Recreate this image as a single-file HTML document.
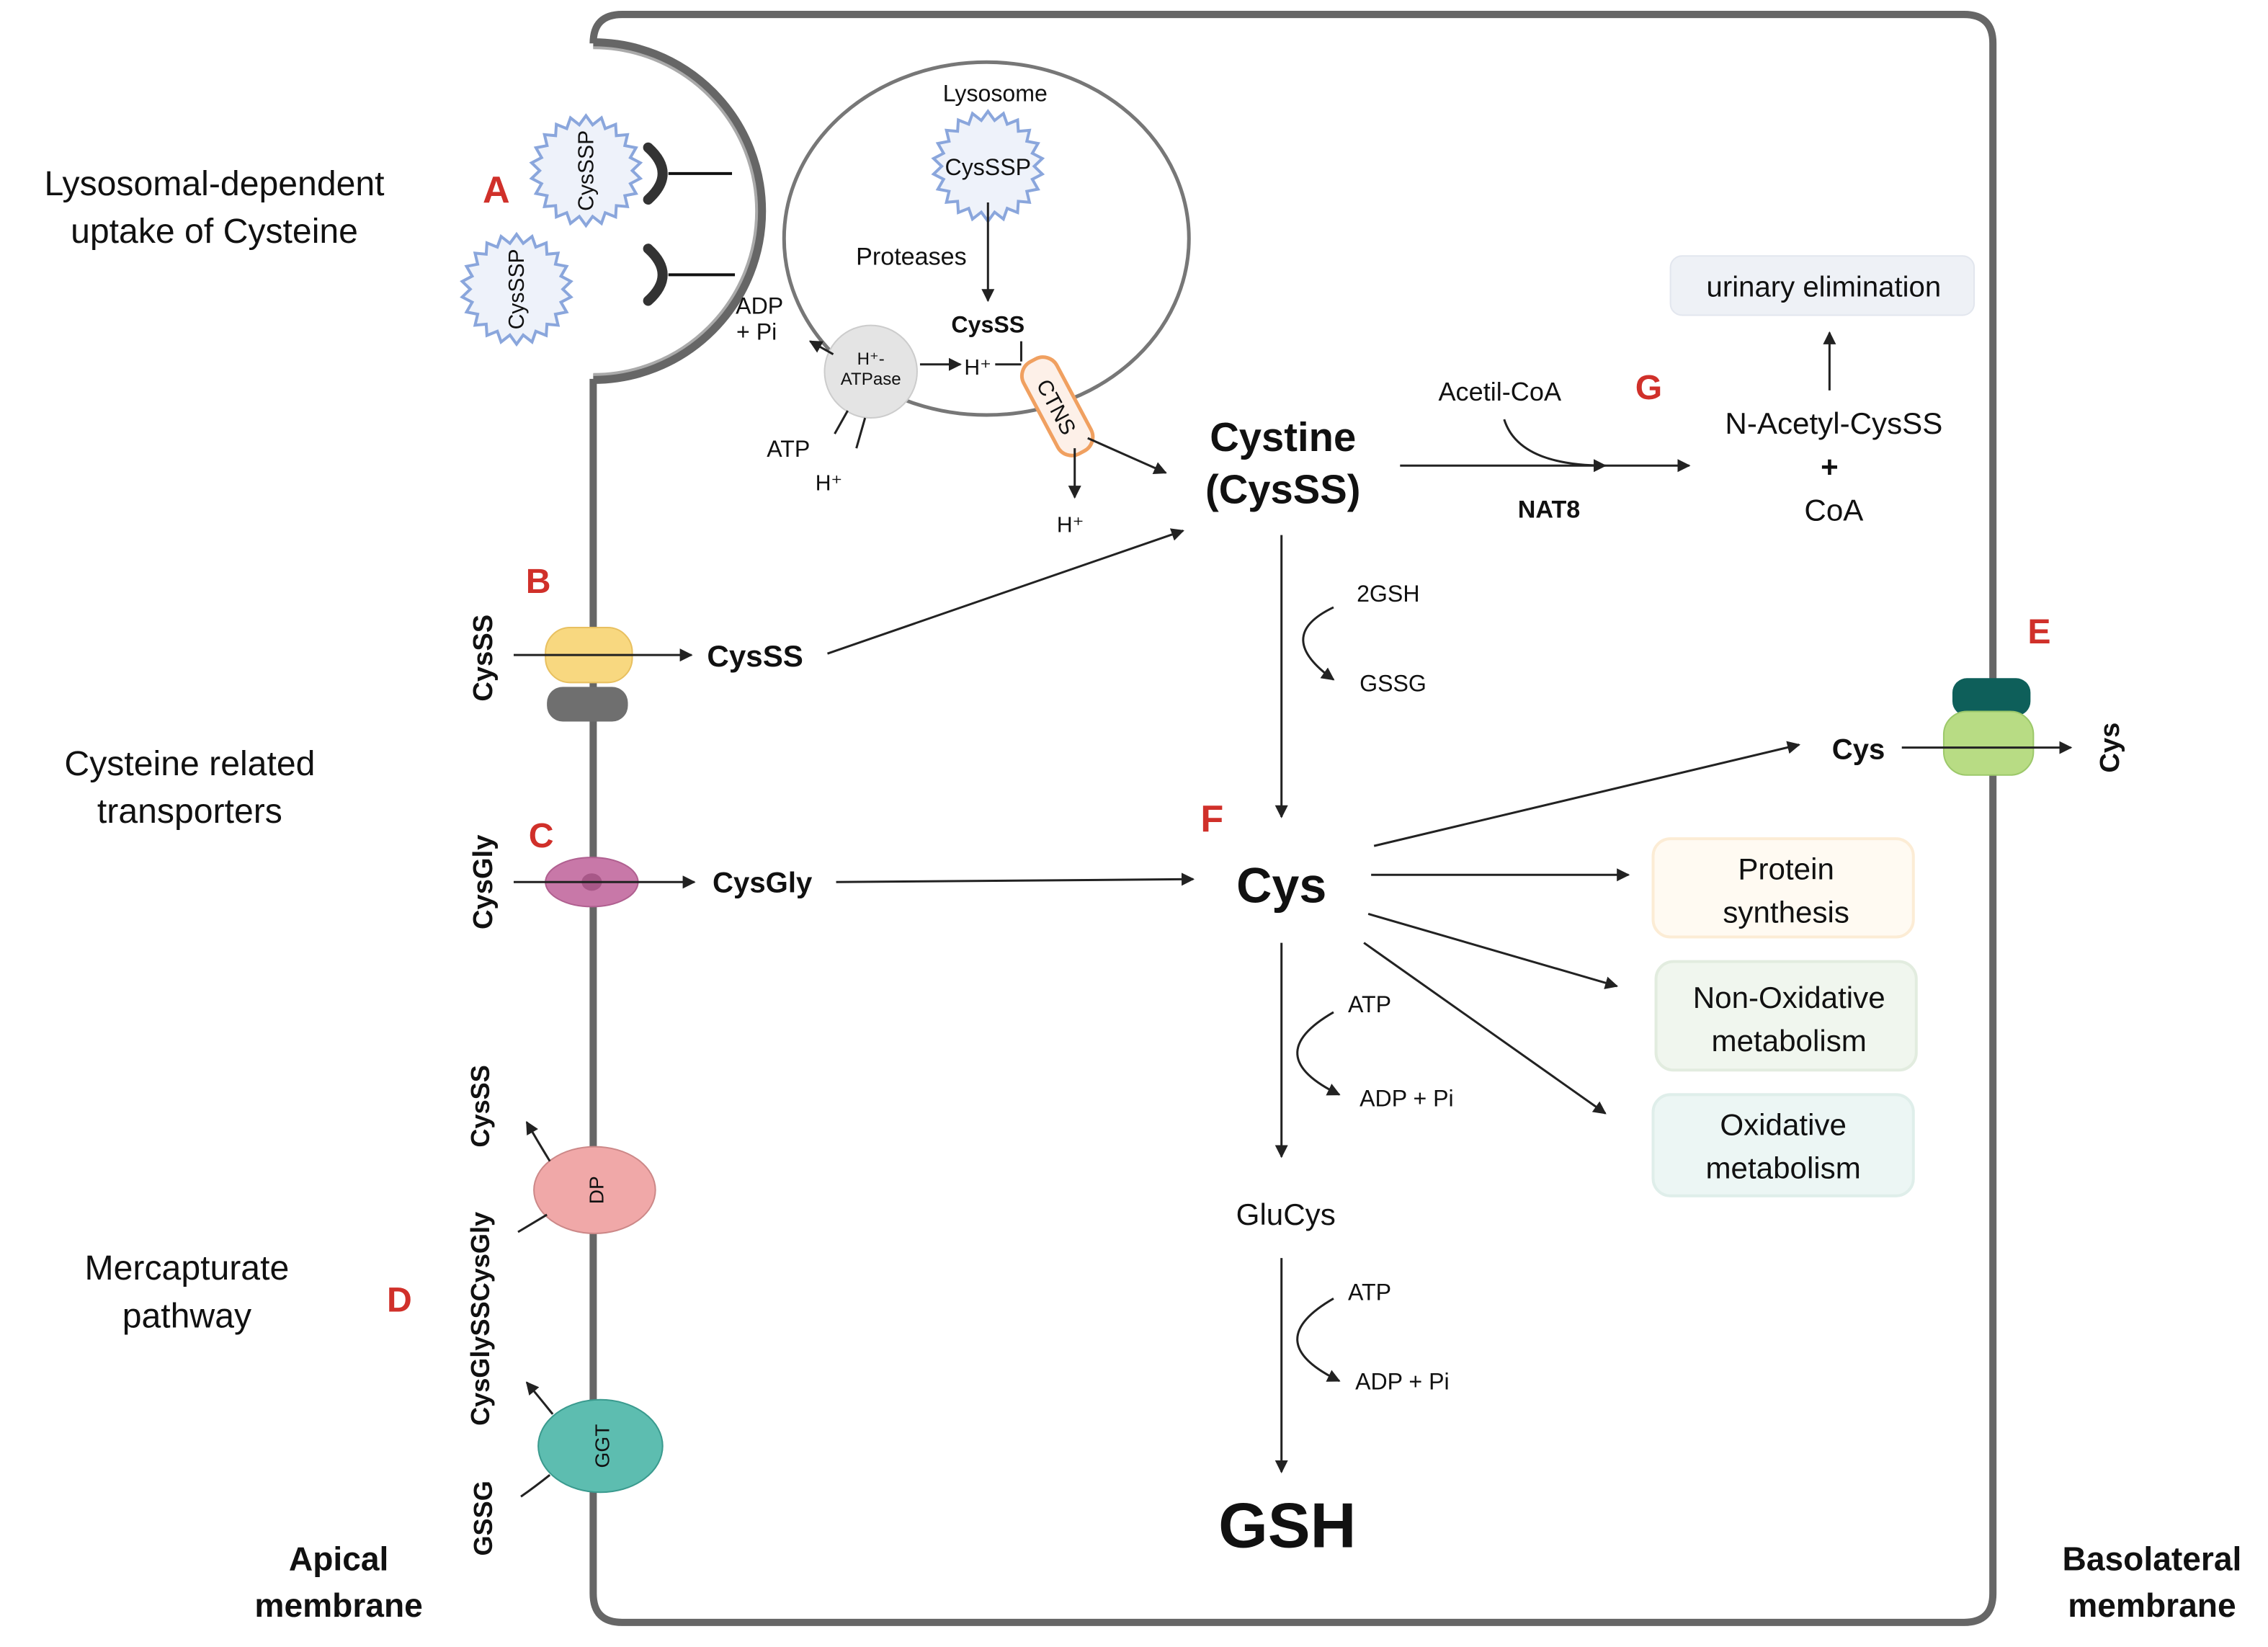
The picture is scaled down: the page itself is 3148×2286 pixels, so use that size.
<!DOCTYPE html>
<html><head><meta charset="utf-8"><style>
html,body{margin:0;padding:0;background:#fff}
svg{display:block}
text{font-family:"Liberation Sans",Arial,sans-serif;fill:#111}
.b{font-weight:bold}
.r{fill:#d0302a;font-weight:bold}
</style></head><body>
<svg width="3148" height="2286" viewBox="0 0 1568 1139" xmlns="http://www.w3.org/2000/svg">
<defs>
<marker id="a" viewBox="0 0 10 10" refX="9" refY="5" markerWidth="9" markerHeight="9" markerUnits="userSpaceOnUse" orient="auto"><path d="M0,0L10,5L0,10z" fill="#222"/></marker>
</defs>
<rect width="1568" height="1139" fill="#fff"/>
<!-- cell -->
<path d="M410,30 L410,30 Q410,10 430,10 L1358,10 Q1378,10 1378,30 L1378,1102 Q1378,1122 1358,1122 L430,1122 Q410,1122 410,1102 L410,262" fill="none" stroke="#666" stroke-width="5"/>
<path d="M410,30 A116,116 0 0 1 410,262" fill="none" stroke="#666" stroke-width="7"/>
<path d="M410,33 A113,113 0 0 1 410,259" fill="none" stroke="#aaa" stroke-width="2"/>
<!-- receptors -->
<line x1="462" y1="120" x2="506" y2="120" stroke="#111" stroke-width="2"/>
<line x1="462" y1="190" x2="508" y2="190" stroke="#111" stroke-width="2"/>
<path d="M448,102 Q468,120 448,138" fill="none" stroke="#333" stroke-width="7" stroke-linecap="round"/>
<path d="M448,172 Q468,190 448,208" fill="none" stroke="#333" stroke-width="7" stroke-linecap="round"/>
<g id="stars"></g>
<text transform="translate(410,118) rotate(-90)" font-size="15" text-anchor="middle">CysSSP</text>
<text transform="translate(362,200) rotate(-90)" font-size="15" text-anchor="middle">CysSSP</text>
<!-- lysosome -->
<ellipse cx="682" cy="165" rx="140" ry="122" fill="none" stroke="#777" stroke-width="2.5"/>
<text x="688" y="70" font-size="16" text-anchor="middle">Lysosome</text>
<text x="683" y="121" font-size="16" text-anchor="middle">CysSSP</text>
<text x="630" y="183" font-size="17" text-anchor="middle">Proteases</text>
<line x1="683" y1="140" x2="683" y2="208" stroke="#222" stroke-width="1.5" marker-end="url(#a)"/>
<text x="683" y="230" font-size="16" class="b" text-anchor="middle">CysSS</text>
<line x1="706" y1="236" x2="706" y2="250" stroke="#222" stroke-width="1.5"/>
<line x1="688" y1="252" x2="706" y2="252" stroke="#222" stroke-width="1.5"/>
<circle cx="602" cy="257" r="32" fill="#e4e4e4" stroke="#ccc"/>
<text x="602" y="252" font-size="12" text-anchor="middle">H⁺-</text>
<text x="602" y="266" font-size="12" text-anchor="middle">ATPase</text>
<line x1="576" y1="245" x2="560" y2="236" stroke="#222" stroke-width="1.5" marker-end="url(#a)"/>
<text x="525" y="217" font-size="16" text-anchor="middle">ADP</text>
<text x="523" y="235" font-size="16" text-anchor="middle">+ Pi</text>
<line x1="636" y1="252" x2="664" y2="252" stroke="#222" stroke-width="1.5" marker-end="url(#a)"/>
<text x="676" y="259" font-size="15" text-anchor="middle">H⁺</text>
<line x1="586" y1="284" x2="577" y2="300" stroke="#222" stroke-width="1.5"/>
<line x1="598" y1="289" x2="592" y2="310" stroke="#222" stroke-width="1.5"/>
<text x="545" y="316" font-size="16" text-anchor="middle">ATP</text>
<text x="573" y="339" font-size="15" text-anchor="middle">H⁺</text>
<g transform="translate(731,281) rotate(62)"><rect x="-36" y="-13" width="72" height="26" rx="11" fill="#fdf0e8" stroke="#f0a060" stroke-width="2.5"/><text x="0" y="6" font-size="15" text-anchor="middle">CTNS</text></g>
<line x1="743" y1="310" x2="743" y2="344" stroke="#222" stroke-width="1.5" marker-end="url(#a)"/>
<text x="740" y="368" font-size="15" text-anchor="middle">H⁺</text>
<line x1="752" y1="303" x2="806" y2="327" stroke="#222" stroke-width="1.5" marker-end="url(#a)"/>
<!-- Cystine -->
<text x="887" y="312" font-size="28" class="b" text-anchor="middle">Cystine</text>
<text x="887" y="348" font-size="28" class="b" text-anchor="middle">(CysSS)</text>
<line x1="968" y1="322" x2="1168" y2="322" stroke="#222" stroke-width="1.5" marker-end="url(#a)"/>
<path d="M1040,290 Q1050,322 1110,322" fill="none" stroke="#222" stroke-width="1.5" marker-end="url(#a)"/>
<text x="1037" y="277" font-size="18" text-anchor="middle">Acetil-CoA</text>
<text x="1071" y="358" font-size="17" class="b" text-anchor="middle">NAT8</text>
<text x="1140" y="276" font-size="24" class="r" text-anchor="middle">G</text>
<text x="1268" y="300" font-size="21" text-anchor="middle">N-Acetyl-CysSS</text>
<text x="1265" y="330" font-size="21" class="b" text-anchor="middle">+</text>
<text x="1268" y="360" font-size="21" text-anchor="middle">CoA</text>
<line x1="1265" y1="270" x2="1265" y2="230" stroke="#222" stroke-width="1.5" marker-end="url(#a)"/>
<rect x="1155" y="177" width="210" height="41" rx="8" fill="#eef1f6" stroke="#e2e6ee"/>
<text x="1261" y="205" font-size="20" text-anchor="middle">urinary elimination</text>
<!-- Cystine to Cys -->
<line x1="886" y1="370" x2="886" y2="565" stroke="#222" stroke-width="1.5" marker-end="url(#a)"/>
<path d="M922,420 Q880,440 922,470" fill="none" stroke="#222" stroke-width="1.5" marker-end="url(#a)"/>
<text x="938" y="416" font-size="16">2GSH</text>
<text x="940" y="478" font-size="16">GSSG</text>
<text x="838" y="575" font-size="26" class="r" text-anchor="middle">F</text>
<text x="886" y="624" font-size="34" class="b" text-anchor="middle">Cys</text>
<line x1="950" y1="585" x2="1244" y2="515" stroke="#222" stroke-width="1.5" marker-end="url(#a)"/>
<line x1="948" y1="605" x2="1126" y2="605" stroke="#222" stroke-width="1.5" marker-end="url(#a)"/>
<line x1="946" y1="632" x2="1118" y2="682" stroke="#222" stroke-width="1.5" marker-end="url(#a)"/>
<line x1="943" y1="652" x2="1110" y2="770" stroke="#222" stroke-width="1.5" marker-end="url(#a)"/>
<rect x="1143" y="580" width="180" height="68" rx="12" fill="#fffaf2" stroke="#fcecd5" stroke-width="2"/>
<text x="1235" y="608" font-size="21" text-anchor="middle">Protein</text>
<text x="1235" y="638" font-size="21" text-anchor="middle">synthesis</text>
<rect x="1145" y="665" width="180" height="75" rx="12" fill="#f0f6ee" stroke="#e2ecdf" stroke-width="2"/>
<text x="1237" y="697" font-size="21" text-anchor="middle">Non-Oxidative</text>
<text x="1237" y="727" font-size="21" text-anchor="middle">metabolism</text>
<rect x="1143" y="757" width="180" height="70" rx="12" fill="#ecf6f4" stroke="#dfeeea" stroke-width="2"/>
<text x="1233" y="785" font-size="21" text-anchor="middle">Oxidative</text>
<text x="1233" y="815" font-size="21" text-anchor="middle">metabolism</text>
<!-- E -->
<text x="1410" y="445" font-size="24" class="r" text-anchor="middle">E</text>
<rect x="1350" y="469" width="54" height="26" rx="10" fill="#0e5f5a"/>
<rect x="1344" y="492" width="62" height="44" rx="16" fill="#b8dc84" stroke="#9cc86a"/>
<text x="1285" y="525" font-size="20" class="b" text-anchor="middle">Cys</text>
<line x1="1315" y1="517" x2="1432" y2="517" stroke="#222" stroke-width="1.5" marker-end="url(#a)"/>
<text transform="translate(1465,517) rotate(-90)" font-size="19" class="b" text-anchor="middle">Cys</text>
<!-- Cys to GSH -->
<line x1="886" y1="652" x2="886" y2="800" stroke="#222" stroke-width="1.5" marker-end="url(#a)"/>
<path d="M922,700 Q870,730 926,757" fill="none" stroke="#222" stroke-width="1.5" marker-end="url(#a)"/>
<text x="932" y="700" font-size="16">ATP</text>
<text x="940" y="765" font-size="16">ADP + Pi</text>
<text x="889" y="847" font-size="21" text-anchor="middle">GluCys</text>
<line x1="886" y1="870" x2="886" y2="1018" stroke="#222" stroke-width="1.5" marker-end="url(#a)"/>
<path d="M922,898 Q870,928 926,955" fill="none" stroke="#222" stroke-width="1.5" marker-end="url(#a)"/>
<text x="932" y="899" font-size="16">ATP</text>
<text x="937" y="961" font-size="16">ADP + Pi</text>
<text x="890" y="1070" font-size="44" class="b" text-anchor="middle">GSH</text>
<!-- left labels -->
<text x="148" y="135" font-size="24" text-anchor="middle">Lysosomal-dependent</text>
<text x="148" y="168" font-size="24" text-anchor="middle">uptake of Cysteine</text>
<text x="343" y="140" font-size="26" class="r" text-anchor="middle">A</text>
<text x="372" y="410" font-size="24" class="r" text-anchor="middle">B</text>
<text transform="translate(340,455) rotate(-90)" font-size="19" class="b" text-anchor="middle">CysSS</text>
<rect x="378" y="475" width="56" height="24" rx="11" fill="#6f6f6f"/>
<rect x="377" y="434" width="60" height="38" rx="17" fill="#f8d880" stroke="#e8c060"/>
<line x1="355" y1="453" x2="478" y2="453" stroke="#222" stroke-width="1.5" marker-end="url(#a)"/>
<text x="522" y="461" font-size="21" class="b" text-anchor="middle">CysSS</text>
<line x1="572" y1="452" x2="818" y2="367" stroke="#222" stroke-width="1.5" marker-end="url(#a)"/>
<text x="131" y="536" font-size="24" text-anchor="middle">Cysteine related</text>
<text x="131" y="569" font-size="24" text-anchor="middle">transporters</text>
<text x="374" y="586" font-size="24" class="r" text-anchor="middle">C</text>
<text transform="translate(340,610) rotate(-90)" font-size="19" class="b" text-anchor="middle">CysGly</text>
<ellipse cx="409" cy="610" rx="32" ry="17" fill="#c878a8" stroke="#b06090"/>
<ellipse cx="409" cy="610" rx="7" ry="6" fill="#a85888"/>
<line x1="355" y1="610" x2="480" y2="610" stroke="#222" stroke-width="1.5" marker-end="url(#a)"/>
<text x="527" y="617" font-size="20" class="b" text-anchor="middle">CysGly</text>
<line x1="578" y1="610" x2="825" y2="608" stroke="#222" stroke-width="1.5" marker-end="url(#a)"/>
<text x="129" y="885" font-size="24" text-anchor="middle">Mercapturate</text>
<text x="129" y="918" font-size="24" text-anchor="middle">pathway</text>
<text x="276" y="907" font-size="24" class="r" text-anchor="middle">D</text>
<text transform="translate(338,765) rotate(-90)" font-size="18" class="b" text-anchor="middle">CysSS</text>
<text transform="translate(338,912) rotate(-90)" font-size="18" class="b" text-anchor="middle">CysGlySSCysGly</text>
<text transform="translate(340,1050) rotate(-90)" font-size="18" class="b" text-anchor="middle">GSSG</text>
<ellipse cx="411" cy="823" rx="42" ry="30" fill="#f0a8a8" stroke="#c88"/>
<text transform="translate(417,823) rotate(-90)" font-size="14" text-anchor="middle">DP</text>
<path d="M380,803 Q372,790 364,776" fill="none" stroke="#222" stroke-width="1.5" marker-end="url(#a)"/>
<path d="M378,840 Q368,846 358,852" fill="none" stroke="#222" stroke-width="1.5"/>
<ellipse cx="415" cy="1000" rx="43" ry="32" fill="#5dbdb0" stroke="#3a9a8e"/>
<text transform="translate(421,1000) rotate(-90)" font-size="14" text-anchor="middle">GGT</text>
<path d="M382,978 Q374,968 364,956" fill="none" stroke="#222" stroke-width="1.5" marker-end="url(#a)"/>
<path d="M380,1020 Q370,1028 360,1035" fill="none" stroke="#222" stroke-width="1.5"/>
<text x="234" y="1086" font-size="23" class="b" text-anchor="middle">Apical</text>
<text x="234" y="1118" font-size="23" class="b" text-anchor="middle">membrane</text>
<text x="1488" y="1086" font-size="23" class="b" text-anchor="middle">Basolateral</text>
<text x="1488" y="1118" font-size="23" class="b" text-anchor="middle">membrane</text>
</svg>
<script>
(function(){
 var g=document.getElementById('stars');
 [[405,118,38],[357,200,38],[683,115,38]].forEach(function(s){
  var p=[],n=22;
  for(var i=0;i<n*2;i++){var r=i%2?s[2]:s[2]-6;var t=Math.PI*i/n;p.push((s[0]+r*Math.cos(t)).toFixed(1)+','+(s[1]+r*Math.sin(t)).toFixed(1));}
  var e=document.createElementNS('http://www.w3.org/2000/svg','polygon');
  e.setAttribute('points',p.join(' '));e.setAttribute('fill','#eef2fa');e.setAttribute('stroke','#8aa6dc');e.setAttribute('stroke-width','2');
  g.appendChild(e);
 });
})();
</script>
</body></html>
